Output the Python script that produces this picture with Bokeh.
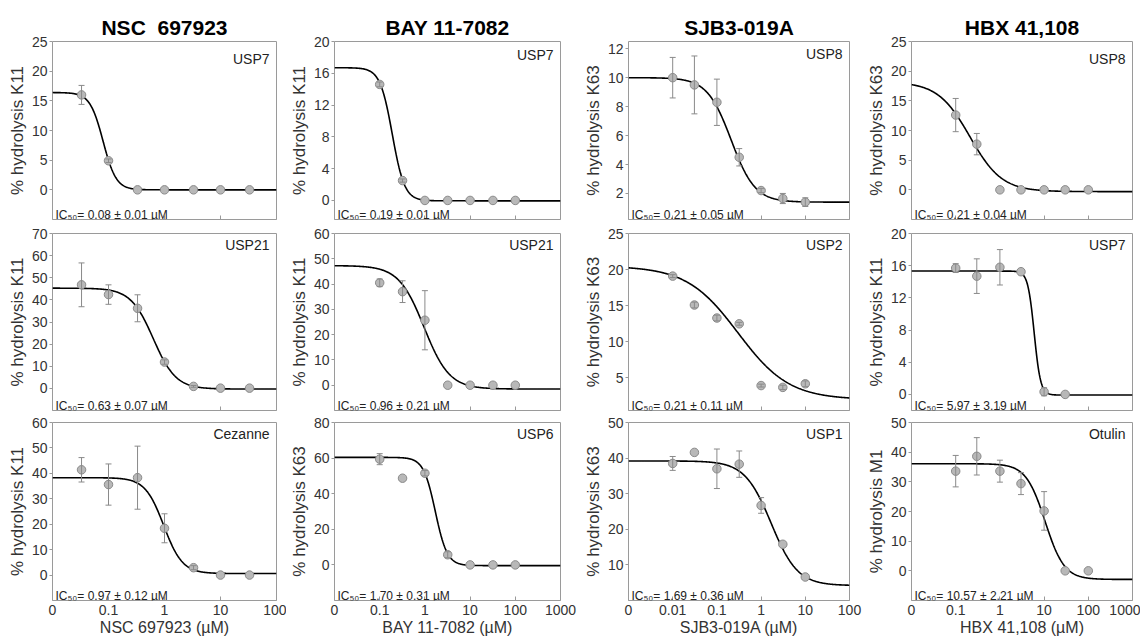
import numpy as np
from bokeh.plotting import figure
from bokeh.layouts import row, column
from bokeh.models import ColumnDataSource, Whisker, TeeHead, FixedTicker, Label, Range1d
from bokeh.embed import file_html
from bokeh.resources import INLINE

# ---------------- column (compound) data ----------------
compounds = ["NSC\u00a0 697923", "BAY 11-7082", "SJB3-019A", "HBX 41,108"]
x_axis_titles = ["NSC 697923 (µM)", "BAY 11-7082 (µM)", "SJB3-019A (µM)", "HBX 41,108 (µM)"]
x_limits = [(0.01, 100), (0.01, 1000), (0.001, 100), (0.01, 1000)]
x_ticks = [[0.01, 0.1, 1, 10, 100],
           [0.01, 0.1, 1, 10, 100, 1000],
           [0.001, 0.01, 0.1, 1, 10, 100],
           [0.01, 0.1, 1, 10, 100, 1000]]
x_tick_labels = [["0", "0.1", "1", "10", "100"],
                 ["0", "0.1", "1", "10", "100", "1000"],
                 ["0", "0.01", "0.1", "1", "10", "100"],
                 ["0", "0.1", "1", "10", "100", "1000"]]

dose_nsc = [0.033, 0.1, 0.33, 1, 3.3, 10, 33]
dose_bay = [0.1, 0.32, 1, 3.2, 10, 32, 100]
dose_sjb = [0.01, 0.031, 0.1, 0.32, 1, 3.1, 10]
dose_hbx = [0.1, 0.3, 1, 3, 10, 30, 100]

# ---------------- panel data (fit = top, bottom, IC50, Hill) ----------------
# row 1
nsc_usp7_y = [16.0, 4.9, 0.0, 0.0, 0.0, 0.0, 0.0]
nsc_usp7_err = [1.6, 0.3, 0, 0, 0, 0, 0]
nsc_usp7_fit = [16.4, 0.0, 0.08, 3.7]

bay_usp7_y = [14.6, 2.5, 0.0, 0.0, 0.0, 0.0, 0.0]
bay_usp7_err = [0.3, 0.2, 0, 0, 0, 0, 0]
bay_usp7_fit = [16.7, -0.05, 0.19, 3.2]

sjb_usp8_y = [10.0, 9.5, 8.3, 4.5, 2.2, 1.65, 1.4]
sjb_usp8_err = [1.4, 2.0, 1.6, 0.6, 0.15, 0.35, 0.3]
sjb_usp8_fit = [10.0, 1.4, 0.21, 1.6]

hbx_usp8_y = [12.6, 7.7, 0.0, 0.0, 0.0, 0.0, 0.0]
hbx_usp8_err = [2.8, 1.8, 0, 0, 0, 0, 0]
hbx_usp8_fit = [18.2, -0.3, 0.21, 1.2]

# row 2
nsc_usp21_y = [46.8, 42.4, 36.2, 11.9, 0.9, 0.1, 0.1]
nsc_usp21_err = [9.9, 4.4, 6.1, 1.0, 0.4, 0, 0]
nsc_usp21_fit = [45.3, -0.3, 0.63, 2.15]

bay_usp21_y = [40.5, 37.0, 25.7, 0.0, 0.0, 0.0, 0.0]
bay_usp21_err = [1.5, 4.3, 11.7, 0, 0, 0, 0]
bay_usp21_fit = [47.3, -1.5, 0.96, 1.55]

sjb_usp2_y = [19.1, 15.1, 13.3, 12.5, 3.95, 3.7, 4.2]
sjb_usp2_err = [0.2, 0.4, 0.4, 0.2, 0.2, 0.3, 0.4]
sjb_usp2_fit = [20.5, 2.0, 0.30, 0.75]

hbx_usp7_y = [15.7, 14.7, 15.8, 15.25, 0.33, 0.0]
hbx_usp7_err = [0.55, 2.15, 2.2, 0, 0.5, 0]
hbx_usp7_fit = [15.33, -0.08, 5.97, 6.0]

# row 3
nsc_cez_y = [41.4, 35.6, 38.3, 18.4, 2.9, 0.0, 0.0]
nsc_cez_err = [4.8, 8.1, 12.4, 5.7, 0.8, 0, 0]
nsc_cez_fit = [38.3, 0.6, 0.97, 2.6]

bay_usp6_y = [59.4, 48.7, 51.5, 5.7, 0.0, 0.0, 0.0]
bay_usp6_err = [3.1, 0, 1.5, 1.7, 0, 0, 0]
bay_usp6_fit = [60.4, -0.4, 1.70, 3.3]

sjb_usp1_y = [38.5, 41.6, 37.0, 38.3, 26.7, 15.8, 6.6]
sjb_usp1_err = [1.95, 0, 5.55, 3.7, 2.2, 0, 0]
sjb_usp1_fit = [39.2, 4.2, 1.69, 1.45]

hbx_otu_y = [33.6, 38.6, 33.6, 29.4, 20.2, 0.0, 0.0]
hbx_otu_err = [5.3, 6.3, 3.7, 3.7, 6.5, 0, 0]
hbx_otu_fit = [36.1, -2.9, 10.57, 2.0]

enzymes = [["USP7", "USP7", "USP8", "USP8"],
           ["USP21", "USP21", "USP2", "USP7"],
           ["Cezanne", "USP6", "USP1", "Otulin"]]
y_titles = [["% hydrolysis K11", "% hydrolysis K11", "% hydrolysis K63", "% hydrolysis K63"],
            ["% hydrolysis K11", "% hydrolysis K11", "% hydrolysis K63", "% hydrolysis K11"],
            ["% hydrolysis K11", "% hydrolysis K63", "% hydrolysis K63", "% hydrolysis M1"]]
ic50_texts = [["0.08 ± 0.01", "0.19 ± 0.01", "0.21 ± 0.05", "0.21 ± 0.04"],
              ["0.63 ± 0.07", "0.96 ± 0.21", "0.21 ± 0.11", "5.97 ± 3.19"],
              ["0.97 ± 0.12", "1.70 ± 0.31", "1.69 ± 0.36", "10.57 ± 2.21"]]
y_limits = [[(-5, 25), (-2.4, 20), (0.2, 12.5), (-5, 25)],
            [(-10, 70), (-10, 60), (0.5, 25), (-2, 20)],
            [(-10, 60), (-20, 80), (0, 50), (-10, 50)]]
y_ticks = [[[0, 5, 10, 15, 20, 25], [0, 4, 8, 12, 16, 20], [2, 4, 6, 8, 10, 12], [0, 5, 10, 15, 20, 25]],
           [[0, 10, 20, 30, 40, 50, 60, 70], [0, 10, 20, 30, 40, 50, 60], [5, 10, 15, 20, 25], [0, 4, 8, 12, 16, 20]],
           [[0, 10, 20, 30, 40, 50, 60], [0, 20, 40, 60, 80], [10, 20, 30, 40, 50], [0, 10, 20, 30, 40, 50]]]

panel_data = [
    [(dose_nsc, nsc_usp7_y, nsc_usp7_err, nsc_usp7_fit),
     (dose_bay, bay_usp7_y, bay_usp7_err, bay_usp7_fit),
     (dose_sjb, sjb_usp8_y, sjb_usp8_err, sjb_usp8_fit),
     (dose_hbx, hbx_usp8_y, hbx_usp8_err, hbx_usp8_fit)],
    [(dose_nsc, nsc_usp21_y, nsc_usp21_err, nsc_usp21_fit),
     (dose_bay, bay_usp21_y, bay_usp21_err, bay_usp21_fit),
     (dose_sjb, sjb_usp2_y, sjb_usp2_err, sjb_usp2_fit),
     (dose_hbx[:len(hbx_usp7_y)], hbx_usp7_y, hbx_usp7_err, hbx_usp7_fit)],
    [(dose_nsc, nsc_cez_y, nsc_cez_err, nsc_cez_fit),
     (dose_bay, bay_usp6_y, bay_usp6_err, bay_usp6_fit),
     (dose_sjb, sjb_usp1_y, sjb_usp1_err, sjb_usp1_fit),
     (dose_hbx, hbx_otu_y, hbx_otu_err, hbx_otu_fit)],
]

# ---------------- layout / style ----------------
FONT = "Liberation Sans"
frame_w = [224, 226, 221, 221]
border_l = [52, 46, 45, 45]
border_r = [10, 20, 14, 8]
frame_h = [178, 177, 178]
border_t = [41, 7, 6]
border_b = [7, 6, 39]
label_drop = [[9, 5, 4, 9], [3, 3, 3, 3], [3, 3, 3, 3]]

GRAY_AX = "#9a9a9a"
TXT = "#333333"


def make_panel(r, c):
    dose, yv, err, fit = panel_data[r][c]
    x0, x1 = x_limits[c]
    y0, y1 = y_limits[r][c]
    p = figure(x_axis_type="log",
               x_range=Range1d(x0, x1), y_range=Range1d(y0, y1),
               frame_width=frame_w[c], frame_height=frame_h[r],
               min_border_left=border_l[c], min_border_right=border_r[c],
               min_border_top=border_t[r], min_border_bottom=border_b[r],
               title=(compounds[c] if r == 0 else None),
               output_backend="svg", toolbar_location=None, tools="")
    p.background_fill_color = "white"
    p.border_fill_color = "white"
    p.outline_line_color = GRAY_AX
    p.outline_line_width = 1
    p.grid.visible = False

    if r == 0:
        p.title.text_font = FONT
        p.title.text_font_size = "21px"
        p.title.text_font_style = "bold"
        p.title.text_color = "black"
        p.title.align = "center"
        p.title.standoff = 5

    # x axis
    xa = p.xaxis[0]
    xa.axis_line_color = None
    if r == 2:
        xa.ticker = FixedTicker(ticks=x_ticks[c], minor_ticks=[])
        xa.major_label_overrides = {t: lab for t, lab in zip(x_ticks[c], x_tick_labels[c])}
        xa.major_tick_line_color = GRAY_AX
        xa.major_tick_in = 4
        xa.major_tick_out = 0
        xa.minor_tick_line_color = None
        xa.major_label_text_font = FONT
        xa.major_label_text_font_size = "14px"
        xa.major_label_text_color = TXT
        xa.major_label_standoff = 4
        xa.axis_label = x_axis_titles[c]
        xa.axis_label_text_font = FONT
        xa.axis_label_text_font_size = "16px"
        xa.axis_label_text_font_style = "normal"
        xa.axis_label_text_color = TXT
        xa.axis_label_standoff = 1
    else:
        # unlabeled decade ticks only
        xa.ticker = FixedTicker(ticks=[], minor_ticks=x_ticks[c])
        xa.major_tick_line_color = None
        xa.minor_tick_line_color = GRAY_AX
        xa.minor_tick_in = 4
        xa.minor_tick_out = 0
        xa.major_label_standoff = 0

    # y axis
    ya = p.yaxis[0]
    ya.ticker = FixedTicker(ticks=y_ticks[r][c], minor_ticks=[])
    ya.axis_line_color = None
    ya.major_tick_line_color = GRAY_AX
    ya.major_tick_in = 0
    ya.major_tick_out = 3
    ya.minor_tick_line_color = None
    ya.major_label_text_font = FONT
    ya.major_label_text_font_size = "14px"
    ya.major_label_text_color = TXT
    ya.major_label_standoff = 2
    ya.axis_label = y_titles[r][c]
    ya.axis_label_text_font = FONT
    ya.axis_label_text_font_size = "17px"
    ya.axis_label_text_font_style = "normal"
    ya.axis_label_text_color = TXT
    ya.axis_label_standoff = 2

    # fitted curve
    top, bottom, ic50, hill = fit
    xs = np.logspace(np.log10(x0), np.log10(x1), 400)
    ys = bottom + (top - bottom) / (1.0 + (xs / ic50) ** hill)
    p.line(xs, ys, line_color="black", line_width=1.6)

    # error bars
    ex = [d for d, e in zip(dose, err) if e > 0]
    elo = [v - e for v, e in zip(yv, err) if e > 0]
    ehi = [v + e for v, e in zip(yv, err) if e > 0]
    if ex:
        src = ColumnDataSource(dict(x=ex, lo=elo, hi=ehi))
        w = Whisker(source=src, base="x", lower="lo", upper="hi", dimension="height",
                    line_color="#8a8a8a", line_width=1,
                    upper_head=TeeHead(size=6, line_color="#8a8a8a", line_width=1),
                    lower_head=TeeHead(size=6, line_color="#8a8a8a", line_width=1),
                    level="glyph")
        p.add_layout(w)

    # data points
    p.scatter(dose, yv, marker="circle", size=8.5, fill_color="#b8b8b8",
              line_color="#8a8a8a", line_width=1)

    # enzyme label
    p.add_layout(Label(x=x1, y=y1, text=enzymes[r][c], text_align="right",
                       text_baseline="top", x_offset=-7, y_offset=-label_drop[r][c],
                       text_font=FONT, text_font_size="14px", text_color="#222222"))
    # IC50 label
    p.add_layout(Label(x=x0, y=y0, text="IC₅₀= " + ic50_texts[r][c] + " µM",
                       text_align="left", text_baseline="alphabetic",
                       x_offset=3, y_offset=5,
                       text_font=FONT, text_font_size="12px", text_color="#222222"))
    return p


rows = []
for r in range(3):
    rows.append(row(*[make_panel(r, c) for c in range(4)], spacing=0))
layout = column(*rows, spacing=0)

open("out.html", "w").write(file_html(layout, INLINE))
